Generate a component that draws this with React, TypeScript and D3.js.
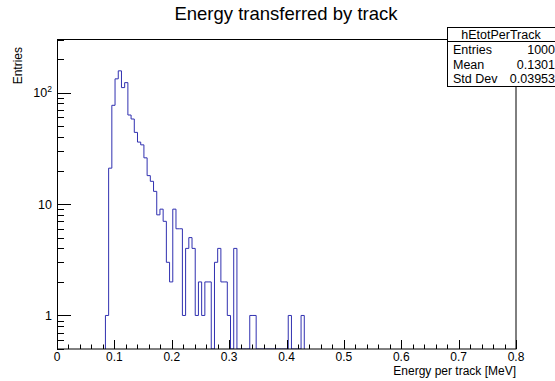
import React, { useEffect, useRef } from "react";
import * as d3 from "d3";

const W = 555;
const H = 381;
const FRAME = { left: 57, right: 516, top: 39.5, bottom: 349 };
const FONT = "'Liberation Sans', Arial, Helvetica, sans-serif";
const BLUE = "#3030b0";

// histogram binning
const binLow = 0.0844;
const binWidth = 0.00559;
const counts = [
  1, 21, 77, 133, 157, 111, 123, 63, 58, 44,
  36, 34, 26, 18, 16, 13, 8, 9, 7, 3,
  2, 9, 6, 6, 1, 4, 5, 4, 1, 2,
  1, 2, 2, 0, 3, 4, 2, 2, 1, 0,
  4, 0, 0, 0, 0, 1, 1, 0, 0, 0,
  0, 0, 0, 0, 0, 0, 0, 1, 0, 0,
  0, 1
];

const xDomain = [0, 0.8];
const yDomain = [0.5, 300];
const xTickLabels = ["0", "0.1", "0.2", "0.3", "0.4", "0.5", "0.6", "0.7", "0.8"];
const yMajorTicks = [1, 10, 100];

const title = "Energy transferred by track";
const xTitle = "Energy per track [MeV]";
const yTitle = "Entries";

const statsTitle = "hEtotPerTrack";
const statsNames = ["Entries", "Mean", "Std Dev"];
const statsValues = ["1000", "0.1301", "0.03953"];

export default function App() {
  const ref = useRef<SVGSVGElement | null>(null);

  useEffect(() => {
    const svg = d3.select(ref.current);
    svg.selectAll("*").remove();

    const x = d3.scaleLinear().domain(xDomain).range([FRAME.left, FRAME.right]);
    const y = d3.scaleLog().domain(yDomain).range([FRAME.bottom, FRAME.top]);

    svg.append("rect").attr("width", W).attr("height", H).attr("fill", "#fff");

    svg
      .append("clipPath")
      .attr("id", "frame-clip")
      .append("rect")
      .attr("x", FRAME.left)
      .attr("y", FRAME.top)
      .attr("width", FRAME.right - FRAME.left)
      .attr("height", FRAME.bottom - FRAME.top);

    // histogram outline, empty bins drop to the frame bottom
    const pts: [number, number][] = [[x(binLow), FRAME.bottom]];
    counts.forEach((c, i) => {
      const x0 = x(binLow + i * binWidth);
      const x1 = x(binLow + (i + 1) * binWidth);
      const yy = c > 0 ? y(c) : FRAME.bottom;
      pts.push([x0, yy], [x1, yy]);
    });
    pts.push([x(binLow + counts.length * binWidth), FRAME.bottom]);

    svg
      .append("path")
      .attr("clip-path", "url(#frame-clip)")
      .attr("d", d3.line()(pts))
      .attr("fill", "none")
      .attr("stroke", BLUE)
      .attr("stroke-width", 1);

    // frame
    svg
      .append("rect")
      .attr("x", FRAME.left + 0.5)
      .attr("y", FRAME.top)
      .attr("width", FRAME.right - FRAME.left - 0.5)
      .attr("height", FRAME.bottom - FRAME.top)
      .attr("fill", "none")
      .attr("stroke", "#000")
      .attr("stroke-width", 1);

    // x ticks (inside frame)
    const xTicks = d3.range(0, 41).map(i => i * 0.02);
    svg
      .append("g")
      .selectAll("line")
      .data(xTicks)
      .enter()
      .append("line")
      .attr("x1", d => Math.round(x(d)) + 0.5)
      .attr("x2", d => Math.round(x(d)) + 0.5)
      .attr("y1", FRAME.bottom)
      .attr("y2", (d, i) => FRAME.bottom - (i % 5 === 0 ? 9 : 4.5))
      .attr("stroke", "#000");

    svg
      .append("g")
      .selectAll("text")
      .data(xTickLabels)
      .enter()
      .append("text")
      .attr("x", (d, i) => x(i * 0.1))
      .attr("y", 360.5)
      .attr("text-anchor", "middle")
      .attr("font-family", FONT)
      .attr("font-size", 12)
      .text(d => d);

    // y ticks, log decades
    const yTicks: { v: number; major: boolean }[] = [];
    [0.1, 1, 10, 100].forEach(dec => {
      for (let m = 1; m <= 9; m++) {
        const v = m * dec;
        if (v >= yDomain[0] && v <= yDomain[1]) yTicks.push({ v, major: m === 1 });
      }
    });
    svg
      .append("g")
      .selectAll("line")
      .data(yTicks)
      .enter()
      .append("line")
      .attr("x1", FRAME.left)
      .attr("x2", d => FRAME.left + (d.major ? 14 : 7))
      .attr("y1", d => Math.round(y(d.v)) + 0.5)
      .attr("y2", d => Math.round(y(d.v)) + 0.5)
      .attr("stroke", "#000");

    const yl = svg
      .append("g")
      .selectAll("text")
      .data(yMajorTicks)
      .enter()
      .append("text")
      .attr("x", 52)
      .attr("y", d => y(d) + 4.5)
      .attr("text-anchor", "end")
      .attr("font-family", FONT)
      .attr("font-size", 12.5);
    yl.each(function (d) {
      const t = d3.select(this);
      if (d >= 100) {
        const exp = Math.round(Math.log10(d));
        t.append("tspan").text("10");
        t.append("tspan").attr("font-size", 8.5).attr("dy", -5).text(String(exp));
      } else {
        t.text(String(d));
      }
    });

    // titles
    svg
      .append("text")
      .attr("x", 286)
      .attr("y", 20)
      .attr("text-anchor", "middle")
      .attr("font-family", FONT)
      .attr("font-size", 18.5)
      .text(title);

    svg
      .append("text")
      .attr("x", FRAME.right)
      .attr("y", 375)
      .attr("text-anchor", "end")
      .attr("font-family", FONT)
      .attr("font-size", 12)
      .text(xTitle);

    svg
      .append("text")
      .attr("transform", "translate(21.5,47) rotate(-90)")
      .attr("text-anchor", "end")
      .attr("font-family", FONT)
      .attr("font-size", 12)
      .text(yTitle);

    // stats box
    const box = svg.append("g");
    box
      .append("rect")
      .attr("x", 447.5)
      .attr("y", 27.5)
      .attr("width", 120)
      .attr("height", 59)
      .attr("fill", "#fff")
      .attr("stroke", "#000");
    box
      .append("line")
      .attr("x1", 447.5)
      .attr("x2", W)
      .attr("y1", 41.5)
      .attr("y2", 41.5)
      .attr("stroke", "#000");
    box
      .append("text")
      .attr("x", 501)
      .attr("y", 38.5)
      .attr("text-anchor", "middle")
      .attr("font-family", FONT)
      .attr("font-size", 12.5)
      .text(statsTitle);
    statsNames.forEach((name, i) => {
      box
        .append("text")
        .attr("x", 453)
        .attr("y", 54 + i * 14.6)
        .attr("font-family", FONT)
        .attr("font-size", 12.5)
        .text(name);
      box
        .append("text")
        .attr("x", 555)
        .attr("y", 54 + i * 14.6)
        .attr("text-anchor", "end")
        .attr("font-family", FONT)
        .attr("font-size", 12.5)
        .text(statsValues[i]);
    });
  }, []);

  return (
    <svg
      ref={ref}
      width={W}
      height={H}
      style={{ position: "absolute", left: 0, top: 0, display: "block" }}
    />
  );
}
